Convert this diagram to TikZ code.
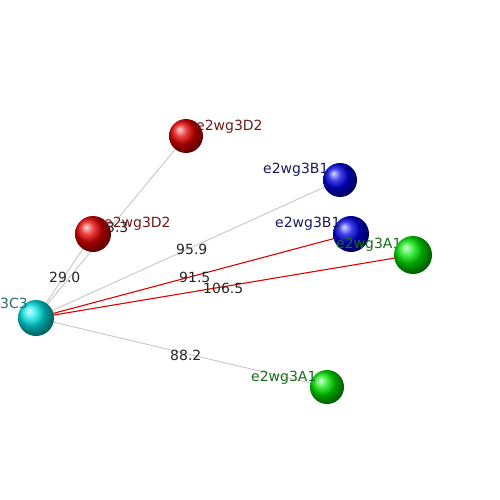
\documentclass[tikz,border=0pt]{standalone}
\usepackage{fontspec}
\setmainfont{DejaVu Sans}
\begin{document}
\begin{tikzpicture}[x=1pt,y=-1pt,
  ballnode/.style={circle, minimum size=#1, inner sep=0pt, shading=ball},
  grayedge/.style={draw=black!22, line width=0.9pt},
  rededge/.style={draw=red!90!black, line width=1.1pt},
  elabel/.style={anchor=base west, inner sep=0pt, text=black!85, font=\fontsize{14}{16}\selectfont},
  nlabel/.style={anchor=base west, inner sep=0pt, font=\fontsize{14}{16}\selectfont},
  dcol/.style={text={rgb,255:red,110;green,25;blue,25}},
  bcol/.style={text={rgb,255:red,25;green,25;blue,95}},
  acol/.style={text={rgb,255:red,25;green,110;blue,25}},
  ccol/.style={text={rgb,255:red,40;green,105;blue,105}}]
\useasboundingbox (0,0) rectangle (500,500);
% node positions
\coordinate (c3) at (36,318);
\coordinate (d2a) at (186,136);
\coordinate (d2b) at (93,234);
\coordinate (b1a) at (340,180);
\coordinate (b1b) at (351,234);
\coordinate (a1a) at (413,255);
\coordinate (a1b) at (327,387);
% edges
\draw[grayedge] (c3) -- (d2a);
\draw[grayedge] (c3) -- (d2b);
\draw[grayedge] (c3) -- (b1a);
\draw[grayedge] (c3) -- (a1b);
\draw[rededge] (c3) -- (b1b);
\draw[rededge] (c3) -- (a1a);
% edge labels
\node[elabel] (l1) at (97,232) {63.3};
\node[elabel] (l2) at (49,282) {29.0};
\node[elabel] (l3) at (176,254) {95.9};
\node[elabel] (l4) at (179,282) {91.5};
\node[elabel] (l5) at (203,293) {106.5};
\node[elabel] (l6) at (170,360) {88.2};
% balls
\node[ballnode=34pt, ball color=red!90!black] (nd2a) at (d2a) {};
\node[ballnode=36pt, ball color=red!90!black] (nd2b) at (d2b) {};
\node[ballnode=34pt, ball color=blue!90!black] (nb1a) at (b1a) {};
\node[ballnode=36pt, ball color=blue!90!black] (nb1b) at (b1b) {};
\node[ballnode=34pt, ball color=green!90!black] (na1b) at (a1b) {};
\node[ballnode=36pt, ball color=cyan!90!black] (nc3) at (c3) {};
% labels
\node[nlabel,dcol] (t1) at (196,130) {e2wg3D2};
\node[nlabel,dcol] (t2) at (104,227) {e2wg3D2};
\node[nlabel,bcol] (t3) at (263,173) {e2wg3B1};
\node[nlabel,bcol] (t4) at (275,227) {e2wg3B1};
\node[nlabel,acol] (t5) at (336,248) {e2wg3A1};
\node[ballnode=38pt, ball color=green!90!black] (na1a) at (a1a) {};
\node[nlabel,acol] (t6) at (251,381) {e2wg3A1};
\node[nlabel,ccol] (t7) at (0,308) {3C3};
\end{tikzpicture}
\end{document}
